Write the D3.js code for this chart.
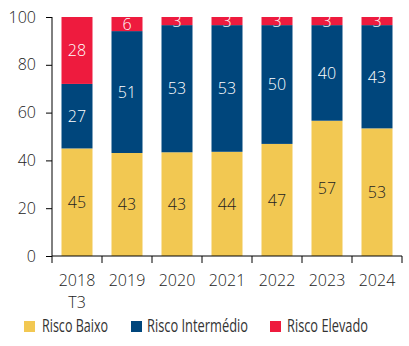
<!DOCTYPE html>
<html><head><meta charset="utf-8">
<script src="https://cdn.jsdelivr.net/npm/d3@7"></script>
<style>
body{margin:0;background:#fff;}
svg{display:block;}
</style></head>
<body><svg id="c" width="409" height="346"></svg>
<script>
const categories = ["2018\nT3","2019","2020","2021","2022","2023","2024"];
const riscoBaixo = [45, 43.1, 43.4, 43.6, 46.9, 56.6, 53.4];
const riscoIntermedio = [27, 51, 53.2, 53.0, 49.7, 40.0, 43.2];
const riscoElevado = [28, 5.9, 3.4, 3.4, 3.4, 3.4, 3.4];
const seriesNames = ["Risco Baixo","Risco Intermédio","Risco Elevado"];
const colors = ["#F2C852","#00467C","#EE1B3E"];
const labelColors = ["#222","#fff","#fff"];
const yTicks = [0,20,40,60,80,100];

const svg = d3.select("#c");
const font = "'Open Sans', sans-serif";
const x = d3.scaleBand().domain(categories).range([52,402]).paddingInner(0.38).paddingOuter(0.19);
const y = d3.scaleLinear().domain([0,100]).range([256,17]);

const data = categories.map((c,i)=>({cat:c, "Risco Baixo":riscoBaixo[i], "Risco Intermédio":riscoIntermedio[i], "Risco Elevado":riscoElevado[i]}));
const stack = d3.stack().keys(seriesNames)(data);

const g = svg.append("g");
stack.forEach((layer,si)=>{
  const lg = g.append("g");
  lg.selectAll("rect").data(layer).join("rect")
    .attr("x", d=>x(d.data.cat))
    .attr("width", x.bandwidth())
    .attr("y", d=>y(d[1]))
    .attr("height", d=>y(d[0])-y(d[1]))
    .attr("fill", colors[si]);
  lg.selectAll("text").data(layer).join("text")
    .attr("x", d=>x(d.data.cat)+x.bandwidth()/2)
    .attr("y", d=>(y(d[0])+y(d[1]))/2)
    .attr("dy","0.36em")
    .attr("text-anchor","middle")
    .attr("font-family", font).attr("font-weight",300)
    .attr("font-size", 16)
    .attr("fill", labelColors[si])
    .text(d=>Math.round(d[1]-d[0]));
});

// Y axis
const yAxis = svg.append("g").attr("transform","translate(52,0)")
  .call(d3.axisLeft(y).tickValues(yTicks).tickSize(6).tickPadding(10));
yAxis.select(".domain").attr("stroke","#000").attr("d","M-0,17V256");
yAxis.selectAll(".tick line").attr("stroke","#000");
yAxis.selectAll("text").attr("font-family",font).attr("font-weight",300).attr("font-size",16).attr("fill","#222");

// X axis
const xAxis = svg.append("g").attr("transform","translate(0,256)")
  .call(d3.axisBottom(x).tickSize(0).tickFormat(""));
xAxis.select(".domain").attr("stroke","#000").attr("d","M52,0H402");
const bounds = d3.range(categories.length+1).map(i=>52+i*x.step());
xAxis.selectAll("line.sep").data(bounds).join("line").attr("class","sep")
  .attr("x1",d=>d).attr("x2",d=>d).attr("y1",0).attr("y2",7).attr("stroke","#000");
categories.forEach(c=>{
  const lines = c.split("\n");
  const t = svg.append("text")
    .attr("x", x(c)+x.bandwidth()/2).attr("y", 286)
    .attr("text-anchor","middle")
    .attr("font-family",font).attr("font-weight",300).attr("font-size",16).attr("fill","#222");
  lines.forEach((l,i)=>t.append("tspan").attr("x", x(c)+x.bandwidth()/2).attr("dy", i?22:0).text(l));
});

// Legend
const legX = [24,131,270];
const legTX = [42,147,287];
const legW = [66,101,81];
const leg = svg.append("g");
seriesNames.forEach((n,i)=>{
  leg.append("rect").attr("x",legX[i]).attr("y",321).attr("width",11).attr("height",11).attr("fill",colors[i]);
  leg.append("text").attr("x",legTX[i]).attr("y",331.7)
    .attr("font-family","'Open Sans',sans-serif")
    .attr("font-size",18.5).attr("fill","#333")
    .attr("textLength",legW[i]).attr("lengthAdjust","spacingAndGlyphs")
    .text(n);
});
</script></body></html>
